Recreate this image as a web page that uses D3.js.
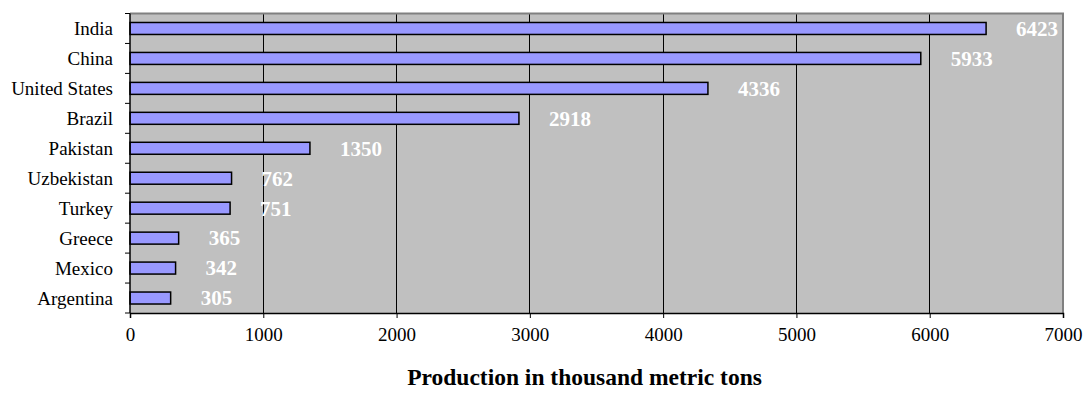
<!DOCTYPE html>
<html>
<head>
<meta charset="utf-8">
<script src="https://cdn.jsdelivr.net/npm/d3@7"></script>
<style>
  html, body { margin: 0; padding: 0; background: #ffffff; }
  svg { display: block; }
  text { font-family: "Liberation Serif", "Times New Roman", serif; }
</style>
</head>
<body>
<svg id="chart" width="1084" height="398"></svg>
<script>
// Cotton production by country, thousand metric tons
const countries = ["India", "China", "United States", "Brazil", "Pakistan",
                   "Uzbekistan", "Turkey", "Greece", "Mexico", "Argentina"];
const production = [6423, 5933, 4336, 2918, 1350, 762, 751, 365, 342, 305];
const xTicks = [0, 1000, 2000, 3000, 4000, 5000, 6000, 7000];
const axisTitle = "Production in thousand metric tons";

const rows = countries.map((c, i) => ({ country: c, value: production[i] }));

const svg = d3.select("#chart");
const margin = { top: 13.5, right: 21, bottom: 85, left: 130 };
const width = 1084 - margin.left - margin.right;
const height = 398 - margin.top - margin.bottom;

const g = svg.append("g").attr("transform", `translate(${margin.left},${margin.top})`);

const x = d3.scaleLinear().domain([0, 7000]).range([0, width]);
const y = d3.scaleBand().domain(countries).range([0, height]).paddingInner(0.6).paddingOuter(0.3);

// plot area background
g.append("rect")
  .attr("x", 0).attr("y", 0)
  .attr("width", width).attr("height", height)
  .attr("fill", "#c0c0c0");

// vertical gridlines
g.append("g")
  .selectAll("line")
  .data(xTicks.filter(t => t > 0 && t < 7000))
  .join("line")
  .attr("x1", d => x(d)).attr("x2", d => x(d))
  .attr("y1", 0).attr("y2", height)
  .attr("stroke", "#000").attr("stroke-width", 1)
  .attr("shape-rendering", "crispEdges");

// plot border (top and right)
g.append("path")
  .attr("d", `M0,0H${width}V${height}`)
  .attr("fill", "none")
  .attr("stroke", "#808080")
  .attr("stroke-width", 2);

// bars
g.append("g")
  .selectAll("rect")
  .data(rows)
  .join("rect")
  .attr("x", x(0))
  .attr("y", d => y(d.country))
  .attr("width", d => x(d.value) - x(0))
  .attr("height", y.bandwidth())
  .attr("fill", "#9999ff")
  .attr("stroke", "#000")
  .attr("stroke-width", 1.5);

// value labels
g.append("g")
  .selectAll("text")
  .data(rows)
  .join("text")
  .attr("x", d => x(d.value) + 30)
  .attr("y", d => y(d.country) + y.bandwidth() / 2)
  .attr("dy", "0.35em")
  .attr("fill", "#ffffff")
  .attr("font-weight", "bold")
  .attr("font-size", 21)
  .text(d => d.value);

// x axis
const xAxis = g.append("g")
  .attr("transform", `translate(0,${height})`)
  .call(d3.axisBottom(x).tickValues(xTicks).tickSize(5).tickPadding(10).tickFormat(d3.format("d")));
xAxis.select(".domain").attr("stroke", "#000").attr("stroke-width", 1.5);
xAxis.selectAll(".tick line").attr("stroke", "#000");
xAxis.selectAll("text")
  .attr("font-family", "Liberation Serif, Times New Roman, serif")
  .attr("font-size", 19)
  .attr("fill", "#000");

// y axis: ticks on category boundaries
const yAxis = g.append("g");
yAxis.append("line")
  .attr("x1", 0).attr("x2", 0)
  .attr("y1", 0).attr("y2", height)
  .attr("stroke", "#000").attr("stroke-width", 1.5);
yAxis.selectAll("line.bnd")
  .data(d3.range(countries.length + 1))
  .join("line")
  .attr("class", "bnd")
  .attr("x1", -5).attr("x2", 0)
  .attr("y1", i => i * height / countries.length)
  .attr("y2", i => i * height / countries.length)
  .attr("stroke", "#000");
yAxis.selectAll("text")
  .data(countries)
  .join("text")
  .attr("x", -17)
  .attr("y", d => y(d) + y.bandwidth() / 2)
  .attr("dy", "0.35em")
  .attr("text-anchor", "end")
  .attr("font-size", 19)
  .attr("fill", "#000")
  .text(d => d);

// axis title
svg.append("text")
  .attr("x", 584.5)
  .attr("y", 385)
  .attr("text-anchor", "middle")
  .attr("font-weight", "bold")
  .attr("font-size", 23.5)
  .attr("fill", "#000")
  .text(axisTitle);
</script>
</body>
</html>
